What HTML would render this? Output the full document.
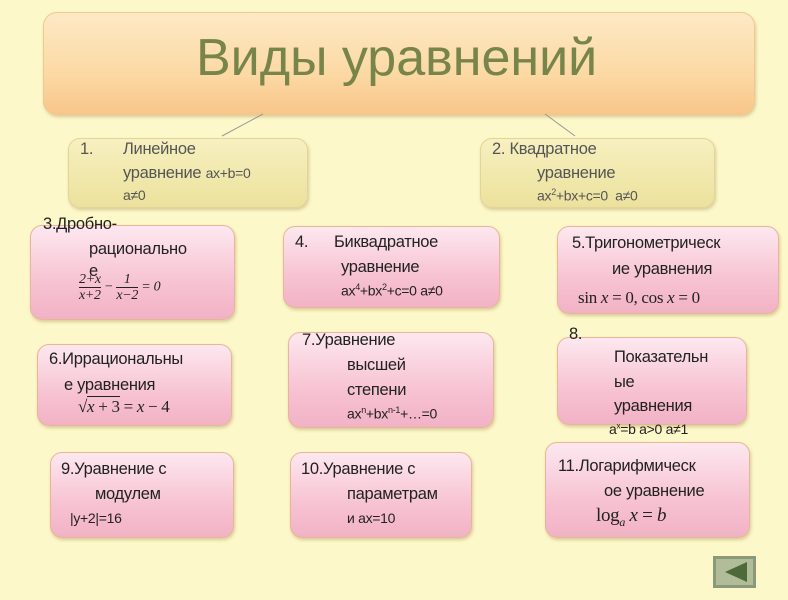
<!DOCTYPE html>
<html><head><meta charset="utf-8"><style>
body{margin:0;width:788px;height:600px;background:#fdf8c9;position:relative;overflow:hidden;font-family:"Liberation Sans Narrow","Liberation Sans",sans-serif;}
.b{position:absolute;border-radius:12px;box-shadow:1px 2px 3px rgba(150,120,60,.35);}
.p{background:linear-gradient(#fde8ef,#f7c3d3 60%,#f2b2c6);border:1px solid #e9b59a;}
.y{background:linear-gradient(#f7f0c0,#ece19c);border:1px solid #e2d49a;}
.t{position:absolute;font-size:16.5px;color:#222;white-space:nowrap;letter-spacing:-0.3px;}
.m{font-family:"Liberation Serif",serif;}
.g{color:#555;}
.fr{display:inline-block;vertical-align:middle;text-align:center;line-height:15px}
.fr span{display:block}
.fr span+span{border-top:1px solid #222}
</style></head><body>
<div class="b" style="left:43px;top:12px;width:710px;height:101px;border-radius:14px;background:linear-gradient(#fde9c6,#fcd9a4 60%,#f8c68a);border:1px solid #f0c890;"></div>
<div class="t" style="left:196px;top:28px;font-size:52px;color:#77844a;font-family:'Liberation Sans',sans-serif;letter-spacing:0">Виды уравнений</div>
<svg style="position:absolute;left:0;top:0" width="788" height="600"><line x1="263" y1="114" x2="222" y2="136" stroke="#999"/><line x1="545" y1="114" x2="575" y2="136" stroke="#999"/></svg>

<div class="b y" style="left:68px;top:138px;width:238px;height:68px"></div>
<div class="t g" style="left:80px;top:140px">1.</div>
<div class="t g" style="left:123px;top:140px">Линейное</div>
<div class="t g" style="left:123px;top:164px">уравнение <span style="font-size:14px">ax+b=0</span></div>
<div class="t g" style="left:123px;top:187px;font-size:14px">a≠0</div>

<div class="b y" style="left:480px;top:138px;width:233px;height:68px"></div>
<div class="t g" style="left:492px;top:140px">2. Квадратное</div>
<div class="t g" style="left:537px;top:164px">уравнение</div>
<div class="t g" style="left:537px;top:187px;font-size:14px">ax<sup style="font-size:9px">2</sup>+bx+c=0&nbsp; a≠0</div>

<div class="b p" style="left:30px;top:225px;width:203px;height:93px"></div>
<div class="t" style="left:43px;top:215px">3.Дробно-</div>
<div class="t" style="left:89px;top:240px">рационально</div>
<div class="t" style="left:89px;top:262px">е</div>
<div class="t m" style="left:79px;top:272px;font-size:14px;font-style:italic"><span class="fr"><span>2+x</span><span>x+2</span></span> − <span class="fr"><span>1</span><span>x−2</span></span> = 0</div>

<div class="b p" style="left:283px;top:226px;width:215px;height:80px"></div>
<div class="t" style="left:295px;top:233px">4.</div>
<div class="t" style="left:334px;top:233px">Биквадратное</div>
<div class="t" style="left:341px;top:258px">уравнение</div>
<div class="t" style="left:341px;top:282px;font-size:14px">ax<sup style="font-size:9px">4</sup>+bx<sup style="font-size:9px">2</sup>+c=0 a≠0</div>

<div class="b p" style="left:557px;top:226px;width:220px;height:86px"></div>
<div class="t" style="left:572px;top:234px">5.Тригонометрическ</div>
<div class="t" style="left:612px;top:260px">ие уравнения</div>
<div class="t m" style="left:578px;top:288px;font-size:17px">sin <i>x</i> = 0, cos <i>x</i> = 0</div>

<div class="b p" style="left:37px;top:344px;width:193px;height:80px"></div>
<div class="t" style="left:49px;top:350px">6.Иррациональны</div>
<div class="t" style="left:64px;top:376px">е уравнения</div>
<div class="t m" style="left:78px;top:397px;font-size:17px">√<span style="border-top:1px solid #222"><i>x</i> + 3</span> = <i>x</i> − 4</div>

<div class="b p" style="left:288px;top:332px;width:204px;height:94px"></div>
<div class="t" style="left:302px;top:331px">7.Уравнение</div>
<div class="t" style="left:347px;top:356px">высшей</div>
<div class="t" style="left:347px;top:381px">степени</div>
<div class="t" style="left:347px;top:405px;font-size:14px">ax<sup style="font-size:9px">n</sup>+bx<sup style="font-size:9px">n-1</sup>+…=0</div>

<div class="b p" style="left:557px;top:337px;width:188px;height:86px"></div>
<div class="t" style="left:569px;top:325px">8.</div>
<div class="t" style="left:614px;top:348px">Показательн</div>
<div class="t" style="left:614px;top:373px">ые</div>
<div class="t" style="left:614px;top:397px">уравнения</div>
<div class="t" style="left:609px;top:421px;font-size:14px">a<sup style="font-size:8px">x</sup>=b a&gt;0 a≠1</div>

<div class="b p" style="left:50px;top:452px;width:182px;height:84px"></div>
<div class="t" style="left:61px;top:460px">9.Уравнение с</div>
<div class="t" style="left:95px;top:485px">модулем</div>
<div class="t" style="left:70px;top:510px;font-size:14px">|y+2|=16</div>

<div class="b p" style="left:290px;top:452px;width:180px;height:84px"></div>
<div class="t" style="left:301px;top:460px">10.Уравнение с</div>
<div class="t" style="left:347px;top:485px">параметрам</div>
<div class="t" style="left:347px;top:510px;font-size:14px">и ax=10</div>

<div class="b p" style="left:545px;top:442px;width:203px;height:94px"></div>
<div class="t" style="left:558px;top:457px">11.Логарифмическ</div>
<div class="t" style="left:604px;top:482px">ое уравнение</div>
<div class="t m" style="left:596px;top:505px;font-size:19px">log<sub style="font-size:12px"><i>a</i></sub> <i>x</i> = <i>b</i></div>

<div style="position:absolute;left:713px;top:556px;width:43px;height:32px;background:#8a9a78;"></div>
<div style="position:absolute;left:716px;top:559px;width:37px;height:26px;background:#b0bd98;"></div>
<svg style="position:absolute;left:713px;top:556px" width="43" height="32"><polygon points="34,6 34,26 12,16" fill="#4d6a3a"/></svg>
</body></html>
